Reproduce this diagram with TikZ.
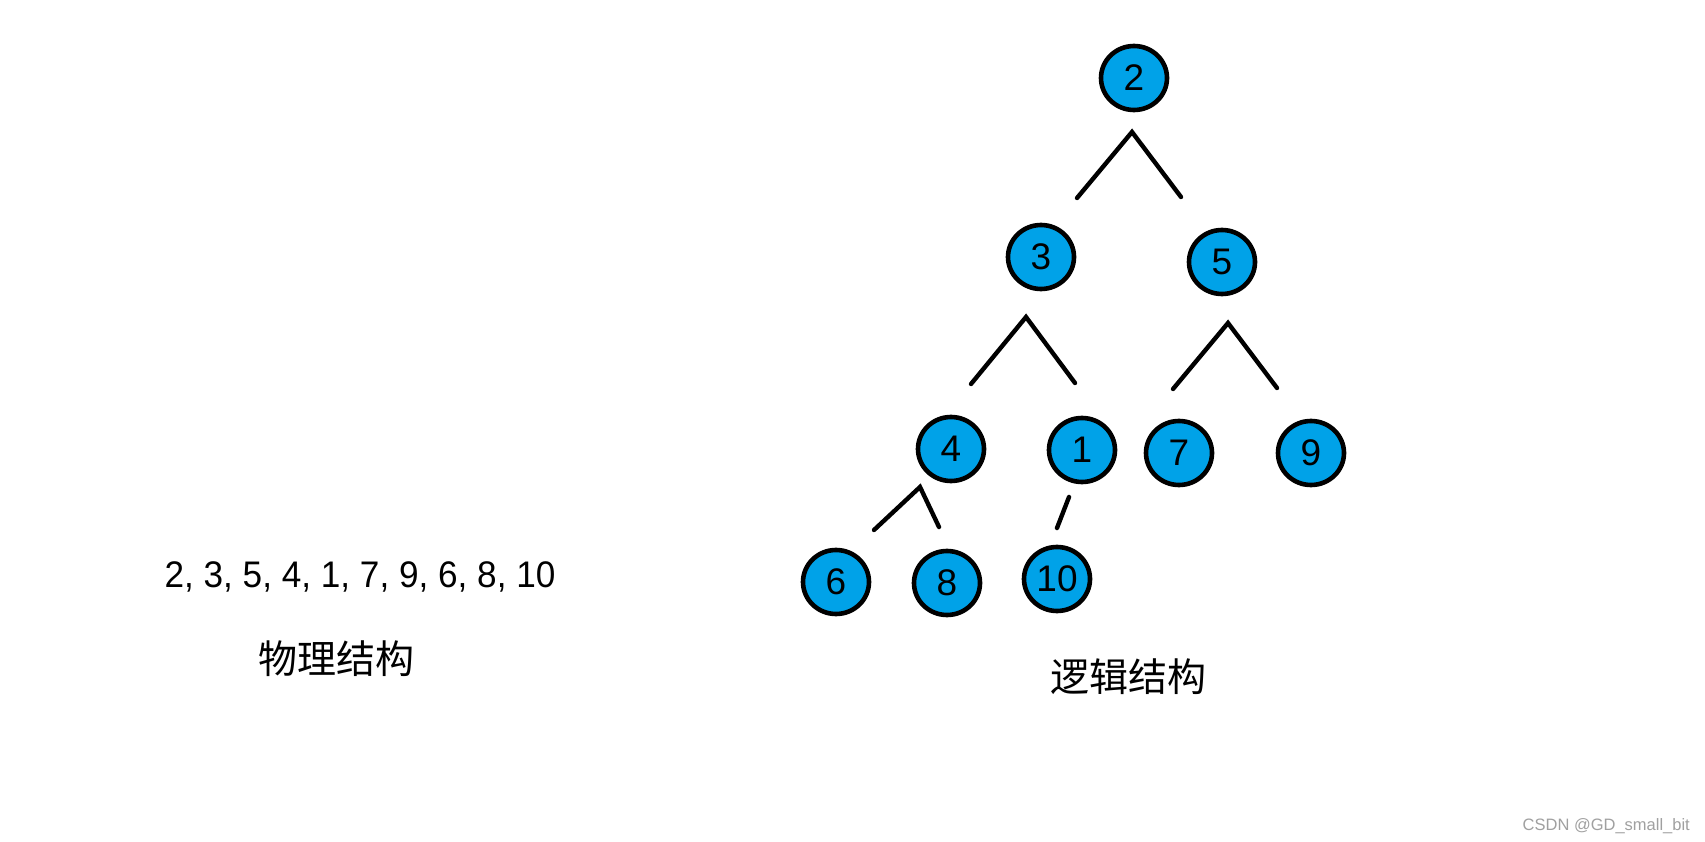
\documentclass[tikz,border=0pt]{standalone}
\usepackage{fontspec}
\setmainfont{Liberation Sans}
\newfontfamily\cjk{Noto Sans CJK SC}
\usetikzlibrary{shapes.geometric}
\definecolor{nodeblue}{RGB}{0,162,232}
\definecolor{wmgray}{RGB}{160,160,160}
\begin{document}
\begin{tikzpicture}[x=1pt,y=-1pt,
  tn/.style={ellipse, draw=black, line width=4.6pt, fill=nodeblue, minimum width=66pt, minimum height=64pt, inner sep=0pt, font=\fontsize{37}{37}\selectfont},
  br/.style={line width=4.4pt, line cap=round},
  cjklabel/.style={font=\cjk\fontsize{39}{39}\selectfont, inner sep=0pt}]
\useasboundingbox[fill=white] (0,0) rectangle (1705,842);
% tree nodes
\node[tn] (n2) at (1134,78) {\raisebox{-2pt}{2}};
\node[tn] (n3) at (1041,257) {\raisebox{-2pt}{3}};
\node[tn] (n5) at (1222,262) {\raisebox{-3pt}{5}};
\node[tn] (n4) at (951,449) {4};
\node[tn] (n1) at (1082,450) {1};
\node[tn] (n7) at (1179,453) {\raisebox{-5pt}{7}};
\node[tn] (n9) at (1311,453) {\raisebox{-6pt}{9}};
\node[tn] (n6) at (836,582) {6};
\node[tn] (n8) at (947,583) {\raisebox{-2pt}{8}};
\node[tn] (n10) at (1057,579) {\raisebox{-2pt}{10}};
% branch points
\coordinate (a2) at (1132,132);
\coordinate (l2) at (1077,198);
\coordinate (r2) at (1181,197);
\coordinate (a3) at (1026,317);
\coordinate (l3) at (971,384);
\coordinate (r3) at (1075,383);
\coordinate (a5) at (1228,323);
\coordinate (l5) at (1173,389);
\coordinate (r5) at (1277,388);
\coordinate (a4) at (920,487);
\coordinate (l4) at (874,530);
\coordinate (r4) at (939,527);
\coordinate (t1) at (1069,497);
\coordinate (b1) at (1057,528);
\draw[br] (l2) -- (a2) -- (r2);
\draw[br] (l3) -- (a3) -- (r3);
\draw[br] (l5) -- (a5) -- (r5);
\draw[br] (l4) -- (a4) -- (r4);
\draw[br] (t1) -- (b1);
% texts
\node[anchor=base, inner sep=0pt, font=\fontsize{37}{37}\selectfont, xscale=0.95] (seq) at (360,587) {2, 3, 5, 4, 1, 7, 9, 6, 8, 10};
\node[cjklabel] (phys) at (336,659) {物理结构};
\node[cjklabel] (logi) at (1128,677) {逻辑结构};
\node[anchor=base east, inner sep=0pt, text=wmgray, font=\fontsize{16.5}{16.5}\selectfont] (wm) at (1690,830) {CSDN @GD\_small\_bit};
\end{tikzpicture}
\end{document}
